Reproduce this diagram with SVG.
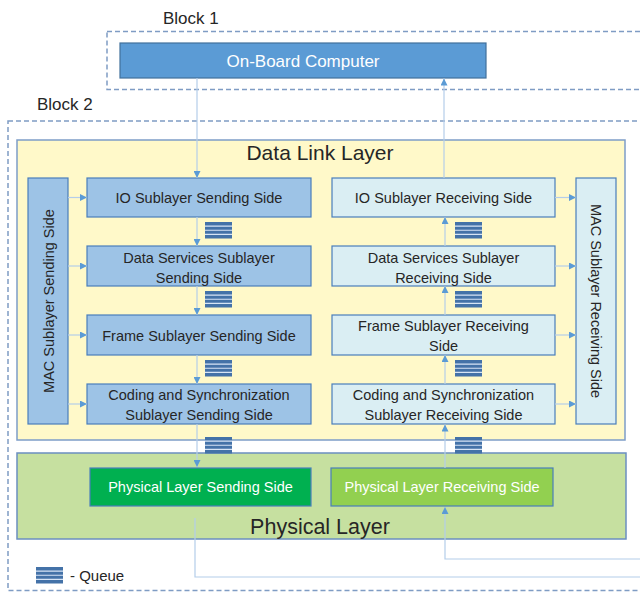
<svg xmlns="http://www.w3.org/2000/svg" xmlns:xlink="http://www.w3.org/1999/xlink" width="640" height="592" viewBox="0 0 640 592">
<style>
text{font-family:"Liberation Sans",Arial,sans-serif;fill:#262626}
.t{font-size:14.5px;text-anchor:middle}
.w{fill:#ffffff}
.blk{fill:none;stroke:#7f9cc4;stroke-width:1.5;stroke-dasharray:5 3}
.snd{fill:#9dc3e6;stroke:#4a7ebb;stroke-width:1.2}
.rcv{fill:#daeef3;stroke:#4a7ebb;stroke-width:1.2}
.ln{fill:none;stroke:#b4cdea;stroke-width:1.2}
</style>
<defs>
<marker id="ah" viewBox="0 0 10 10" refX="10" refY="5" markerWidth="7" markerHeight="7" markerUnits="userSpaceOnUse" orient="auto">
<path d="M0,0 L10,5 L0,10 Z" fill="#5b9bd5"/>
</marker>
<g id="queue">
<rect x="0" y="0" width="27" height="16.5" fill="#4472a8"/>
<path d="M0,4.1H27M0,8.25H27M0,12.4H27" stroke="#d6e4f5" stroke-width="1.2"/>
</g>
</defs>

<g id="block1">
<text x="163" y="24" font-size="17">Block 1</text>
<rect class="blk" x="107" y="31.5" width="545" height="58"/>
</g>
<g id="block2">
<text x="37" y="110" font-size="17">Block 2</text>
<rect class="blk" x="8" y="121" width="644" height="469.5"/>
</g>

<g id="obc">
<rect x="120" y="43" width="366" height="35" fill="#5b9bd5" stroke="#41719c" stroke-width="1.2"/>
<text class="w" x="303" y="67" font-size="17" text-anchor="middle">On-Board Computer</text>
</g>

<g id="data-link-layer">
<rect x="17" y="140" width="608" height="300" fill="#fff9c9" stroke="#7d9dc8" stroke-width="1.5"/>
<text x="320" y="160" font-size="21" text-anchor="middle">Data Link Layer</text>
</g>

<g id="physical-layer">
<rect x="17" y="453" width="609" height="86" fill="#c6e0a0" stroke="#6b8fc0" stroke-width="1.5"/>
<text x="320" y="534" font-size="21.5" text-anchor="middle">Physical Layer</text>
</g>

<g id="mac-send">
<rect class="snd" x="28" y="178" width="40" height="246"/>
<text class="t" transform="translate(53.5,301) rotate(-90)">MAC Sublayer Sending Side</text>
</g>
<g id="io-send">
<rect class="snd" x="87" y="178" width="224" height="39"/>
<text class="t" x="199" y="203">IO Sublayer Sending Side</text>
</g>
<g id="ds-send">
<rect class="snd" x="87" y="246" width="224" height="40"/>
<text class="t" x="199" y="262.5">Data Services Sublayer</text>
<text class="t" x="199" y="282.5">Sending Side</text>
</g>
<g id="frame-send">
<rect class="snd" x="87" y="315" width="224" height="40"/>
<text class="t" x="199" y="340.5">Frame Sublayer Sending Side</text>
</g>
<g id="coding-send">
<rect class="snd" x="87" y="384" width="224" height="40"/>
<text class="t" x="199" y="400">Coding and Synchronization</text>
<text class="t" x="199" y="420">Sublayer Sending Side</text>
</g>

<g id="mac-recv">
<rect class="rcv" x="576" y="178" width="40" height="246"/>
<text class="t" transform="translate(590.5,301) rotate(90)">MAC Sublayer Receiving Side</text>
</g>
<g id="io-recv">
<rect class="rcv" x="332" y="178" width="223" height="39"/>
<text class="t" x="443.5" y="203">IO Sublayer Receiving Side</text>
</g>
<g id="ds-recv">
<rect class="rcv" x="332" y="246" width="223" height="40"/>
<text class="t" x="443.5" y="262.5">Data Services Sublayer</text>
<text class="t" x="443.5" y="282.5">Receiving Side</text>
</g>
<g id="frame-recv">
<rect class="rcv" x="332" y="315" width="223" height="40"/>
<text class="t" x="443.5" y="331">Frame Sublayer Receiving</text>
<text class="t" x="443.5" y="351">Side</text>
</g>
<g id="coding-recv">
<rect class="rcv" x="332" y="384" width="223" height="40"/>
<text class="t" x="443.5" y="400">Coding and Synchronization</text>
<text class="t" x="443.5" y="420">Sublayer Receiving Side</text>
</g>

<g id="phy-send">
<rect x="90" y="468" width="221" height="38" fill="#00b050" stroke="#4a7ebb" stroke-width="1.2"/>
<text class="t w" x="200.5" y="492">Physical Layer Sending Side</text>
</g>
<g id="phy-recv">
<rect x="331" y="468" width="222" height="38" fill="#92d050" stroke="#4a7ebb" stroke-width="1.2"/>
<text class="t w" x="442" y="492">Physical Layer Receiving Side</text>
</g>

<g id="connectors">
<line class="ln" x1="197" y1="78" x2="197" y2="178" marker-end="url(#ah)"/>
<line class="ln" x1="444" y1="178" x2="444" y2="78.5" marker-end="url(#ah)"/>
<line class="ln" x1="68" y1="197.5" x2="87" y2="197.5" marker-end="url(#ah)"/>
<line class="ln" x1="68" y1="266" x2="87" y2="266" marker-end="url(#ah)"/>
<line class="ln" x1="68" y1="335" x2="87" y2="335" marker-end="url(#ah)"/>
<line class="ln" x1="68" y1="404" x2="87" y2="404" marker-end="url(#ah)"/>
<line class="ln" x1="555" y1="197.5" x2="576" y2="197.5" marker-end="url(#ah)"/>
<line class="ln" x1="555" y1="266" x2="576" y2="266" marker-end="url(#ah)"/>
<line class="ln" x1="555" y1="335" x2="576" y2="335" marker-end="url(#ah)"/>
<line class="ln" x1="555" y1="404" x2="576" y2="404" marker-end="url(#ah)"/>
<line class="ln" x1="197" y1="217" x2="197" y2="246" marker-end="url(#ah)"/>
<line class="ln" x1="197" y1="286" x2="197" y2="315" marker-end="url(#ah)"/>
<line class="ln" x1="197" y1="355" x2="197" y2="384" marker-end="url(#ah)"/>
<line class="ln" x1="197" y1="424" x2="197" y2="467" marker-end="url(#ah)"/>
<line class="ln" x1="445" y1="246" x2="445" y2="217" marker-end="url(#ah)"/>
<line class="ln" x1="445" y1="315" x2="445" y2="286" marker-end="url(#ah)"/>
<line class="ln" x1="445" y1="384" x2="445" y2="355" marker-end="url(#ah)"/>
<line class="ln" x1="445" y1="468" x2="445" y2="424.5" marker-end="url(#ah)"/>
<polyline class="ln" points="195,518 195,577 640,577"/>
<polyline class="ln" points="640,559 445,559 445,507" marker-end="url(#ah)"/>
</g>

<g id="queues">
<use xlink:href="#queue" x="205" y="222"/>
<use xlink:href="#queue" x="205" y="291"/>
<use xlink:href="#queue" x="205" y="360"/>
<use xlink:href="#queue" x="205" y="437"/>
<use xlink:href="#queue" x="455" y="222"/>
<use xlink:href="#queue" x="455" y="291"/>
<use xlink:href="#queue" x="455" y="360"/>
<use xlink:href="#queue" x="455" y="437"/>
</g>

<g id="legend">
<use xlink:href="#queue" x="36" y="567"/>
<text x="70" y="581" font-size="15">- Queue</text>
</g>
</svg>
